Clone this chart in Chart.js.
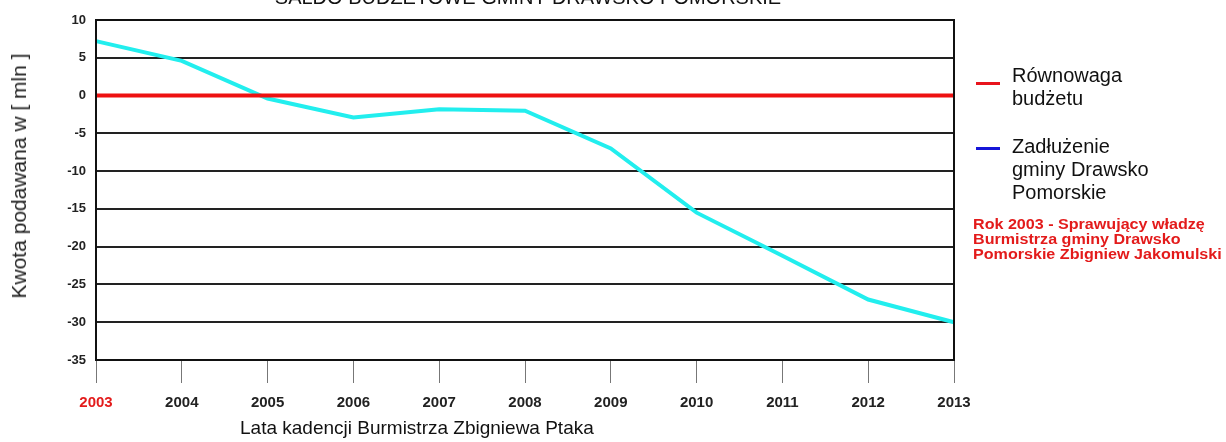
<!DOCTYPE html>
<html>
<head>
<meta charset="utf-8">
<script src="https://cdn.jsdelivr.net/npm/chart.js@4"></script>
<style>
  body { margin: 0; background: #fff; font-family: "Liberation Sans", Arial, sans-serif; }
  #wrap { position: relative; width: 1226px; height: 442px; overflow: hidden; }
  #title { position: absolute; top: -14px; left: 228px; width: 600px; text-align: center; font-size: 20px; color: #111; white-space: nowrap; }
  #ytitle { position: absolute; left: 19px; top: 176px; font-size: 21px; color: #222; white-space: nowrap;
            transform: translate(-50%, -50%) rotate(-90deg); }
  #xtitle { position: absolute; top: 417px; left: 240px; font-size: 19px; color: #111; white-space: nowrap; }
  .leg { position: absolute; left: 980px; font-size: 20px; line-height: 23px; color: #111; }
  .sw { position: absolute; left: -4px; width: 24px; height: 3px; }
  .leg span.t { margin-left: 32px; display: block; }
  #note { position: absolute; left: 973px; top: 217px; font-size: 14px; font-weight: bold; line-height: 15px; color: #e31b1b;
          white-space: nowrap; transform: scaleX(1.15); transform-origin: left top; }
</style>
</head>
<body>
<div id="wrap">
  <canvas id="chart" width="1226" height="442"></canvas>
  <div id="title">SALDO BUDŻETOWE GMINY DRAWSKO POMORSKIE</div>
  <div id="ytitle">Kwota podawana w [ mln ]</div>
  <div class="leg" style="top:64px"><div class="sw" style="top:18px;background:#e8141c"></div><span class="t">Równowaga<br>budżetu</span></div>
  <div class="leg" style="top:135px"><div class="sw" style="top:12px;background:#1616d8"></div><span class="t">Zadłużenie<br>gminy Drawsko<br>Pomorskie</span></div>
  <div id="note">Rok 2003 - Sprawujący władzę<br>Burmistrza gminy Drawsko<br>Pomorskie Zbigniew Jakomulski</div>
  <div id="xtitle">Lata kadencji Burmistrza Zbigniewa Ptaka</div>
</div>
<script>
const years = ["2003", "2004", "2005", "2006", "2007", "2008", "2009", "2010", "2011", "2012", "2013"];
const saldo = [7.2, 4.6, -0.4, -2.9, -1.8, -2.0, -7.0, -15.5, -21.2, -27.0, -30.0];
const balance = [0, 0, 0, 0, 0, 0, 0, 0, 0, 0, 0];

// frame around the plot area
const frame = {
  id: "frame",
  afterDraw(chart) {
    const a = chart.chartArea;
    const c = chart.ctx;
    c.save();
    c.strokeStyle = "#111";
    c.lineWidth = 2;
    c.strokeRect(a.left, a.top, a.right - a.left, a.bottom - a.top);
    c.restore();
  },
};

new Chart(document.getElementById("chart"), {
  type: "line",
  data: {
    labels: years,
    datasets: [
      {
        label: "Równowaga budżetu",
        data: balance,
        borderColor: "#ee1111",
        borderWidth: 4,
        pointRadius: 0,
        tension: 0,
      },
      {
        label: "Zadłużenie gminy Drawsko Pomorskie",
        data: saldo,
        borderColor: "#22eeee",
        borderWidth: 4,
        pointRadius: 0,
        tension: 0,
      },
    ],
  },
  options: {
    responsive: false,
    animation: false,
    layout: { padding: { left: 0, right: 272, top: 20, bottom: 0 } },
    scales: {
      x: {
        offset: false,
        afterFit: (s) => { s.height = 82; },
        grid: {
          drawOnChartArea: false,
          drawTicks: true,
          tickLength: 23,
          color: "#777",
          lineWidth: 1,
        },
        border: { display: false },
        ticks: {
          padding: 11,
          autoSkip: false,
          maxRotation: 0,
          color: (ctx) => (ctx.index === 0 ? "#e31b1b" : "#222"),
          font: { family: "Liberation Sans", size: 15, weight: "bold" },
        },
      },
      y: {
        min: -35,
        max: 10,
        afterFit: (s) => { s.width = 96; },
        grid: { color: "#222", lineWidth: 2, drawTicks: false },
        border: { display: false },
        ticks: {
          stepSize: 5,
          padding: 10,
          color: "#222",
          font: { family: "Liberation Sans", size: 13, weight: "bold" },
        },
      },
    },
    plugins: {
      legend: { display: false },
      tooltip: { enabled: false },
    },
  },
  plugins: [frame],
});
</script>
</body>
</html>
